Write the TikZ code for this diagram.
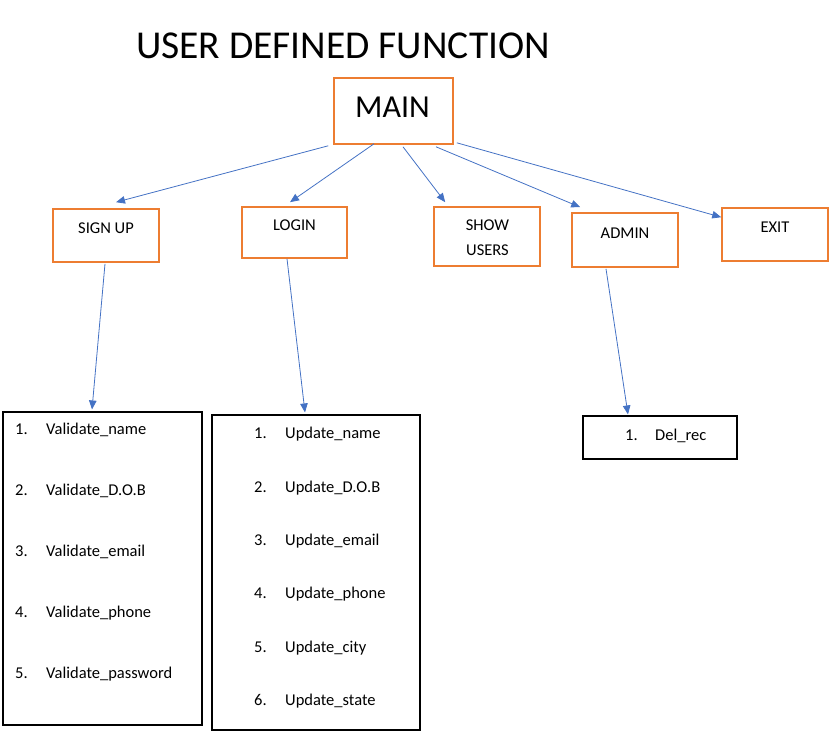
\documentclass[tikz,border=0pt]{standalone}
\usepackage{fontspec}
\setmainfont{Carlito}
\usetikzlibrary{arrows.meta}
\definecolor{boxorange}{RGB}{237,125,49}
\definecolor{arrowblue}{RGB}{68,114,196}
\begin{document}
\begin{tikzpicture}[x=1pt,y=-1pt,
  obox/.style={draw=boxorange,line width=1.6pt,rectangle,inner sep=0pt},
  kbox/.style={draw=black,line width=1.1pt,rectangle,inner sep=0pt},
  lbl/.style={inner sep=0pt,font=\fontsize{16.5}{19}\selectfont},
  item/.style={inner sep=0pt,anchor=mid west,yshift=-3pt,font=\fontsize{16.5}{19}\selectfont},
  conn/.style={draw=arrowblue,line width=0.8pt,-{Triangle[length=9pt,width=7.5pt]}}
]
\useasboundingbox (0,0) rectangle (835,744);
% title
\node[inner sep=0pt,font=\fontsize{39.5}{44}\selectfont] (title) at (343,46) {USER DEFINED FUNCTION};
% main
\node[obox,minimum width=119,minimum height=66] (main) at (393.5,111) {};
\node[inner sep=0pt,font=\fontsize{32}{36}\selectfont] (maintxt) at (392.5,107) {MAIN};
% second level
\node[obox,minimum width=106,minimum height=53] (signup) at (106,235.5) {};
\node[lbl] (signuptxt) at (106,228) {SIGN UP};
\node[obox,minimum width=105,minimum height=51] (login) at (294.5,232.5) {};
\node[lbl] (logintxt) at (294.5,225) {LOGIN};
\node[obox,minimum width=106,minimum height=59] (show) at (487,236.5) {};
\node[lbl] (showtxt1) at (487.5,225) {SHOW};
\node[lbl] (showtxt2) at (487.5,250) {USERS};
\node[obox,minimum width=106,minimum height=54] (admin) at (625,240) {};
\node[lbl] (admintxt) at (625,233) {ADMIN};
\node[obox,minimum width=106,minimum height=53] (exit) at (775,234.5) {};
\node[lbl] (exittxt) at (775,227) {EXIT};
% list boxes
\node[kbox,minimum width=199,minimum height=313] (val) at (102.5,568.5) {};
\node[item] (v1n) at (15,429) {1.};
\node[item] (v1) at (46,429) {Validate\_name};
\node[item] (v2n) at (15,490) {2.};
\node[item] (v2) at (46,490) {Validate\_D.O.B};
\node[item] (v3n) at (15,551) {3.};
\node[item] (v3) at (46,551) {Validate\_email};
\node[item] (v4n) at (15,612) {4.};
\node[item] (v4) at (46,612) {Validate\_phone};
\node[item] (v5n) at (15,673) {5.};
\node[item] (v5) at (46,673) {Validate\_password};
\node[kbox,minimum width=208,minimum height=315] (upd) at (316,572.5) {};
\node[item] (u1n) at (254,433) {1.};
\node[item] (u1) at (285,433) {Update\_name};
\node[item] (u2n) at (254,487) {2.};
\node[item] (u2) at (285,487) {Update\_D.O.B};
\node[item] (u3n) at (254,540) {3.};
\node[item] (u3) at (285,540) {Update\_email};
\node[item] (u4n) at (254,593) {4.};
\node[item] (u4) at (285,593) {Update\_phone};
\node[item] (u5n) at (254,647) {5.};
\node[item] (u5) at (285,647) {Update\_city};
\node[item] (u6n) at (254,700) {6.};
\node[item] (u6) at (285,700) {Update\_state};
\node[kbox,minimum width=154,minimum height=43] (del) at (660,437.5) {};
\node[item] (d1n) at (625,435) {1.};
\node[item] (d1) at (655,435) {Del\_rec};
% connectors
\draw[conn] ([shift={(-5,1)}]main.south west) -- ([shift={(10,-6)}]signup.north);
\draw[conn] ([shift={(-19.5,-1)}]main.south) -- ([shift={(-4.5,-4)}]login.north);
\draw[conn] ([shift={(9.5,2)}]main.south) -- ([shift={(12,-4)}]show.north west);
\draw[conn] ([shift={(42.5,2)}]main.south) -- ([shift={(9,-5)}]admin.north west);
\draw[conn] ([shift={(3,-2)}]main.south east) -- ([shift={(0,10)}]exit.north west);
\draw[conn] ([shift={(-1,1)}]signup.south) -- ([shift={(-10.5,-2)}]val.north);
\draw[conn] ([shift={(-7.5,0)}]login.south) -- ([shift={(-11,-2)}]upd.north);
\draw[conn] ([shift={(-19,1)}]admin.south) -- ([shift={(-32,-1)}]del.north);
\end{tikzpicture}
\end{document}
